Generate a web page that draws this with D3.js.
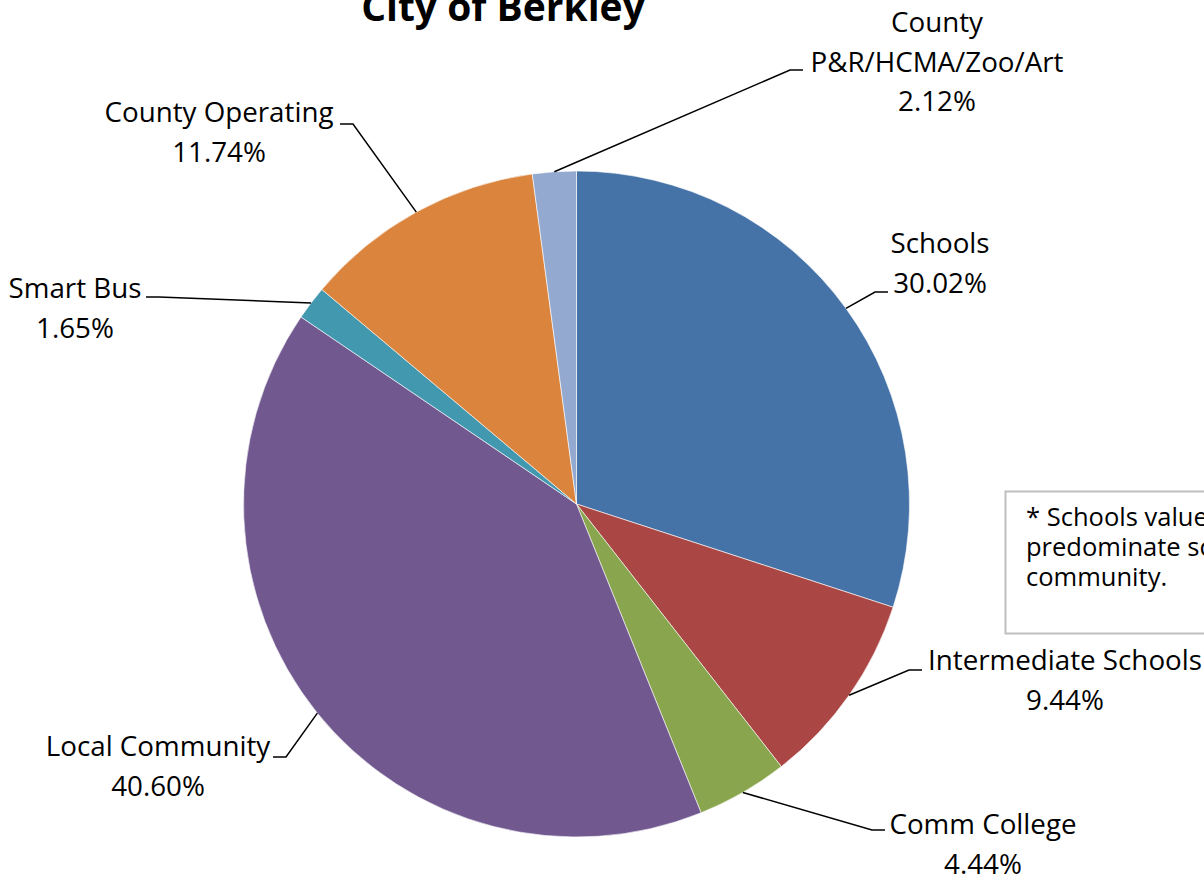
<!DOCTYPE html>
<html lang="en">
<head>
    <meta charset="UTF-8">
    <title>City of Berkley</title>
    <script src="https://d3js.org/d3.v7.min.js"></script>
    <style>
        body { margin: 0; background: #fff; }
        text { font-family: "Open Sans", "Noto Sans", sans-serif; fill: #000; }
    </style>
</head>
<body>
    <div id="chart"></div>
    <script>
        // data
        const categories = ["Schools", "Intermediate Schools", "Comm College", "Local Community",
            "Smart Bus", "County Operating", "County P&R/HCMA/Zoo/Art"];
        const shares = [30.02, 9.44, 4.44, 40.60, 1.65, 11.74, 2.12];
        const labelLines = [
            ["Schools"], ["Intermediate Schools"], ["Comm College"], ["Local Community"],
            ["Smart Bus"], ["County Operating"], ["County", "P&R/HCMA/Zoo/Art"]
        ];
        const colors = ["#4572A7", "#AA4643", "#89A54E", "#71588F", "#4198AF", "#DB843D", "#93A9CF"];
        const noteLines = ["* Schools value", "predominate sc", "community."];

        // label layout: text centre x, first baseline y, elbow x/y, side
        const layout = [
            {x: 940, y: 253, ex: 888, ey: 292, side: "r"},
            {x: 1065, y: 670, ex: 922, ey: 670, side: "r"},
            {x: 983, y: 834, ex: 885, ey: 830, side: "r"},
            {x: 158, y: 756, ex: 273, ey: 757, side: "l"},
            {x: 75, y: 298, ex: 146, ey: 297, side: "l"},
            {x: 219, y: 122, ex: 340, ey: 124, side: "l"},
            {x: 937, y: 32, ex: 803, ey: 70, side: "r"}
        ];

        const W = 1204, H = 883;
        const cx = 576.5, cy = 504, r = 333;

        const svg = d3.select("#chart").append("svg")
            .attr("width", W).attr("height", H);

        // title (cut at the top as in the original)
        svg.append("text")
            .attr("x", 503).attr("y", 21)
            .attr("text-anchor", "middle")
            .style("font-weight", "bold")
            .style("font-size", "39px")
            .text("City of Berkley");

        const pie = d3.pie().sort(null).value(d => d);
        const arcs = pie(shares);
        const arc = d3.arc().innerRadius(0).outerRadius(r);

        const g = svg.append("g").attr("transform", `translate(${cx},${cy})`);
        g.selectAll("path")
            .data(arcs)
            .join("path")
            .attr("d", arc)
            .attr("fill", (d, i) => colors[i])
            .attr("stroke", "#fff")
            .attr("stroke-opacity", 0.6)
            .attr("stroke-width", 1);

        // fit the label font to the original width
        const probe = svg.append("text").style("font-size", "24px").text("Intermediate Schools");
        const fs = 24 * 274 / probe.node().getComputedTextLength();
        probe.remove();
        const lh = 39.5;

        // leader lines and labels
        arcs.forEach((d, i) => {
            const a = (d.startAngle + d.endAngle) / 2;
            const px = cx + r * Math.sin(a), py = cy - r * Math.cos(a);
            const L = layout[i];
            const hx = L.side === "r" ? L.ex - 13 : L.ex + 13;
            svg.append("polyline")
                .attr("points", `${px},${py} ${hx},${L.ey} ${L.ex},${L.ey}`)
                .attr("fill", "none")
                .attr("stroke", "#000")
                .attr("stroke-width", 1.5);

            const lines = labelLines[i].concat([d3.format(".2f")(shares[i]) + "%"]);
            lines.forEach((s, k) => {
                svg.append("text")
                    .attr("x", L.x)
                    .attr("y", L.y + k * lh)
                    .attr("text-anchor", "middle")
                    .style("font-size", fs + "px")
                    .text(s);
            });
        });

        // note box, cut by the right edge
        svg.append("rect")
            .attr("x", 1005.5).attr("y", 491.5)
            .attr("width", 260).attr("height", 142)
            .attr("fill", "#fff")
            .attr("stroke", "#BFBFBF")
            .attr("stroke-width", 2);
        noteLines.forEach((s, k) => {
            svg.append("text")
                .attr("x", 1026).attr("y", 526 + k * 30)
                .style("font-size", (fs * 0.92) + "px")
                .text(s);
        });
    </script>
</body>
</html>
